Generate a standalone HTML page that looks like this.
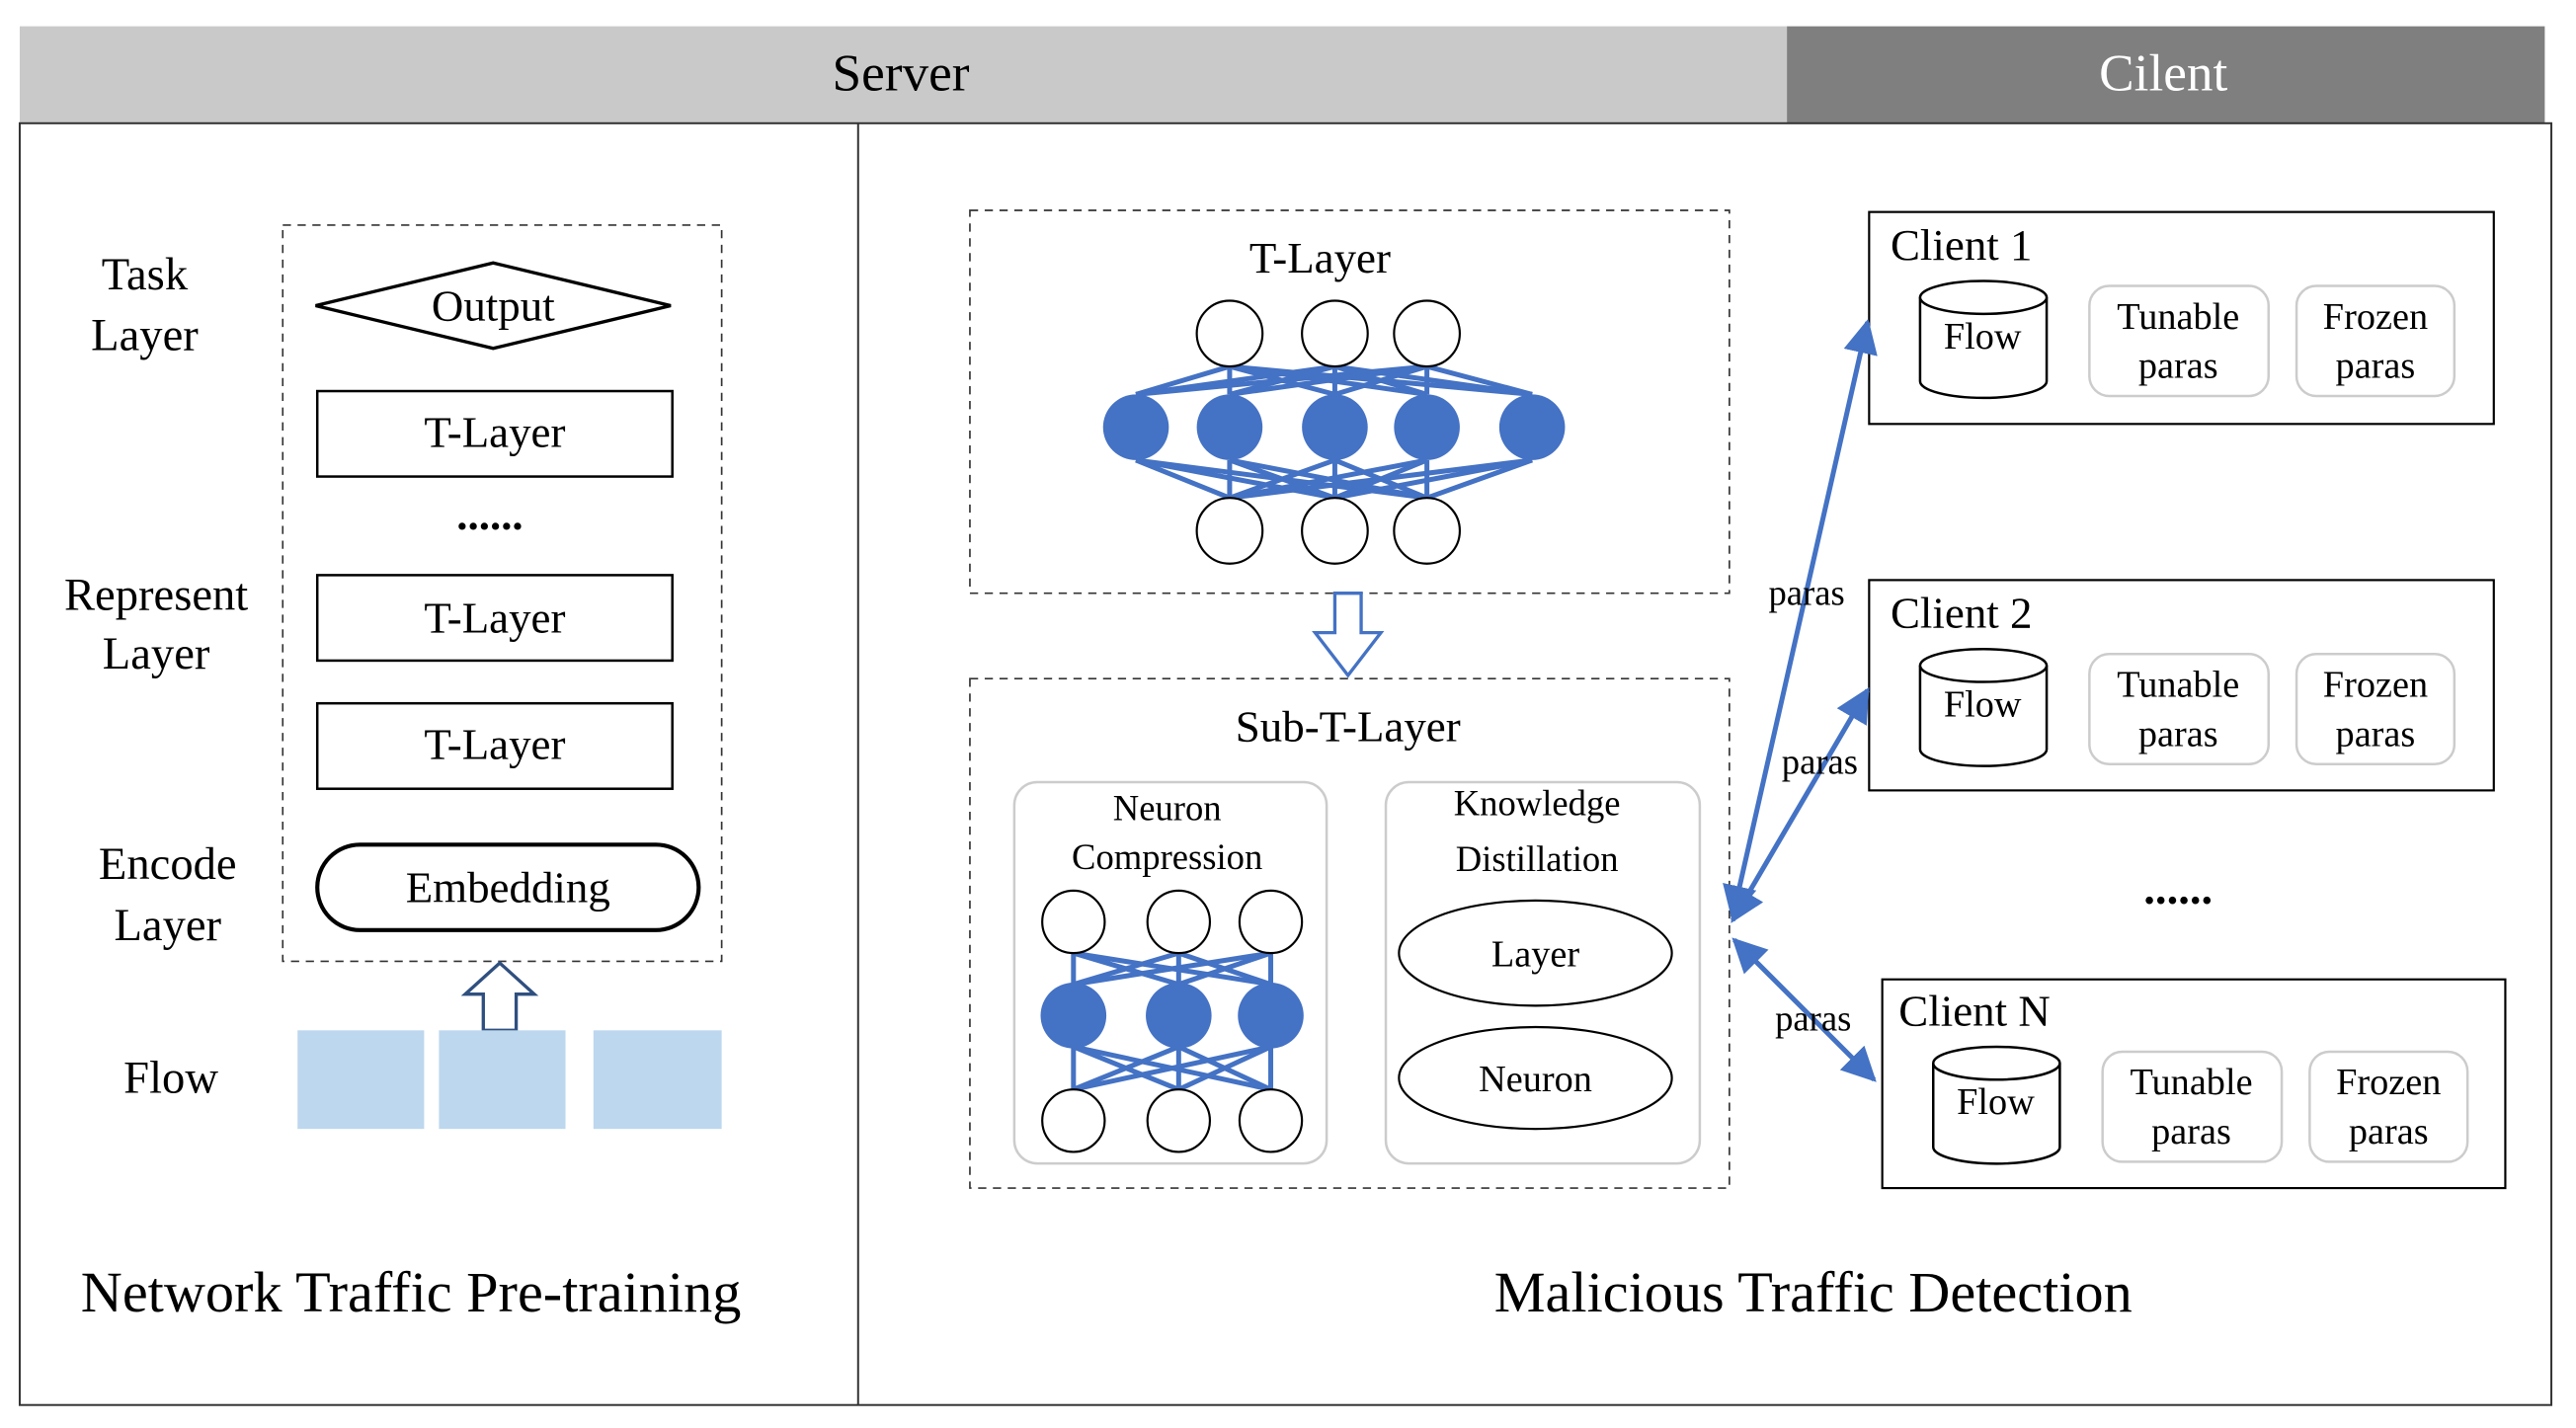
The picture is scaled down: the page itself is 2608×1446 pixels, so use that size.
<!DOCTYPE html>
<html><head><style>html,body{margin:0;padding:0;background:#fff}svg{display:block}text{font-family:"Liberation Serif",serif;fill:#000}</style></head>
<body>
<svg width="2608" height="1446" viewBox="0 0 1567 869" preserveAspectRatio="none" xmlns="http://www.w3.org/2000/svg">
<rect x="12" y="16" width="1075" height="59" fill="#c9c9c9"/>
<rect x="1087" y="16" width="461" height="59" fill="#7f7f7f"/>
<text x="548" y="55" font-size="32" text-anchor="middle">Server</text>
<text x="1316" y="55" font-size="32" text-anchor="middle" style="fill:#fff">Cilent</text>
<rect x="12" y="75" width="1540" height="780" fill="none" stroke="#333" stroke-width="1.2"/>
<line x1="522" y1="75" x2="522" y2="855" stroke="#333" stroke-width="1.2"/>

<g font-size="28" text-anchor="middle">
<text x="88" y="176">Task</text><text x="88" y="213">Layer</text>
<text x="95" y="371">Represent</text><text x="95" y="407">Layer</text>
<text x="102" y="535">Encode</text><text x="102" y="572">Layer</text>
<text x="104" y="665">Flow</text>
</g>
<rect x="172" y="137" width="267" height="448" fill="none" stroke="#333" stroke-dasharray="5,4"/>
<polygon points="192,186 300,160 408,186 300,212" fill="#fff" stroke="#000" stroke-width="2"/>
<text x="300" y="195" font-size="27" text-anchor="middle">Output</text>
<g fill="#fff" stroke="#000" stroke-width="1.5">
<rect x="193" y="238" width="216" height="52"/><rect x="193" y="350" width="216" height="52"/><rect x="193" y="428" width="216" height="52"/>
<rect x="193" y="514" width="232" height="52" rx="26" stroke-width="2.5"/>
</g>
<g font-size="27" text-anchor="middle">
<text x="301" y="272">T-Layer</text><text x="301" y="385">T-Layer</text><text x="301" y="462">T-Layer</text>
<text x="309" y="549">Embedding</text>
<text x="298" y="322" font-weight="bold">......</text>
</g>
<polygon points="294,627 314,627 314,605 325,605 304,586 283,605 294,605" fill="#fff" stroke="#2f4f7f" stroke-width="2"/>
<g fill="#bdd7ee"><rect x="181" y="627" width="77" height="60"/><rect x="267" y="627" width="77" height="60"/><rect x="361" y="627" width="78" height="60"/></g>
<text x="250" y="798" font-size="35" text-anchor="middle">Network Traffic Pre-training</text>

<rect x="590" y="128" width="462" height="233" fill="none" stroke="#333" stroke-dasharray="5,4"/>
<text x="803" y="166" font-size="27" text-anchor="middle">T-Layer</text>
<g stroke="#4472c4" stroke-width="3">
<line x1="691" y1="240" x2="748" y2="223"/><line x1="691" y1="240" x2="812" y2="223"/><line x1="691" y1="240" x2="868" y2="223"/>
<line x1="748" y1="240" x2="748" y2="223"/><line x1="748" y1="240" x2="812" y2="223"/><line x1="748" y1="240" x2="868" y2="223"/>
<line x1="812" y1="240" x2="748" y2="223"/><line x1="812" y1="240" x2="812" y2="223"/><line x1="812" y1="240" x2="868" y2="223"/>
<line x1="868" y1="240" x2="748" y2="223"/><line x1="868" y1="240" x2="812" y2="223"/><line x1="868" y1="240" x2="868" y2="223"/>
<line x1="932" y1="240" x2="748" y2="223"/><line x1="932" y1="240" x2="812" y2="223"/><line x1="932" y1="240" x2="868" y2="223"/>
<line x1="691" y1="280" x2="748" y2="303"/><line x1="691" y1="280" x2="812" y2="303"/><line x1="691" y1="280" x2="868" y2="303"/>
<line x1="748" y1="280" x2="748" y2="303"/><line x1="748" y1="280" x2="812" y2="303"/><line x1="748" y1="280" x2="868" y2="303"/>
<line x1="812" y1="280" x2="748" y2="303"/><line x1="812" y1="280" x2="812" y2="303"/><line x1="812" y1="280" x2="868" y2="303"/>
<line x1="868" y1="280" x2="748" y2="303"/><line x1="868" y1="280" x2="812" y2="303"/><line x1="868" y1="280" x2="868" y2="303"/>
<line x1="932" y1="280" x2="748" y2="303"/><line x1="932" y1="280" x2="812" y2="303"/><line x1="932" y1="280" x2="868" y2="303"/>
</g>
<g fill="#fff" stroke="#000" stroke-width="1.3">
<circle cx="748" cy="203" r="20"/><circle cx="812" cy="203" r="20"/><circle cx="868" cy="203" r="20"/>
<circle cx="748" cy="323" r="20"/><circle cx="812" cy="323" r="20"/><circle cx="868" cy="323" r="20"/>
</g>
<g fill="#4472c4"><circle cx="691" cy="260" r="20"/><circle cx="748" cy="260" r="20"/><circle cx="812" cy="260" r="20"/><circle cx="868" cy="260" r="20"/><circle cx="932" cy="260" r="20"/></g>
<polygon points="812,361 828,361 828,385 840,385 820,411 800,385 812,385" fill="#fff" stroke="#4472c4" stroke-width="2"/>

<rect x="590" y="413" width="462" height="310" fill="none" stroke="#333" stroke-dasharray="5,4"/>
<text x="820" y="451" font-size="27" text-anchor="middle">Sub-T-Layer</text>
<rect x="617" y="476" width="190" height="232" rx="14" fill="none" stroke="#ccc" stroke-width="1.5"/>
<rect x="843" y="476" width="191" height="232" rx="14" fill="none" stroke="#ccc" stroke-width="1.5"/>
<g font-size="22" text-anchor="middle">
<text x="710" y="499">Neuron</text><text x="710" y="529">Compression</text>
<text x="935" y="496">Knowledge</text><text x="935" y="530">Distillation</text>
</g>
<g stroke="#4472c4" stroke-width="3">
<line x1="653" y1="580" x2="653" y2="663"/><line x1="717" y1="580" x2="717" y2="663"/><line x1="773" y1="580" x2="773" y2="663"/>
<line x1="653" y1="580" x2="773" y2="599"/><line x1="773" y1="580" x2="653" y2="599"/><line x1="653" y1="580" x2="717" y2="599"/><line x1="717" y1="580" x2="653" y2="599"/><line x1="717" y1="580" x2="773" y2="599"/><line x1="773" y1="580" x2="717" y2="599"/>
<line x1="653" y1="637" x2="773" y2="663"/><line x1="773" y1="637" x2="653" y2="663"/><line x1="653" y1="637" x2="717" y2="663"/><line x1="717" y1="637" x2="653" y2="663"/><line x1="717" y1="637" x2="773" y2="663"/><line x1="773" y1="637" x2="717" y2="663"/>
</g>
<g fill="#fff" stroke="#000" stroke-width="1.3">
<circle cx="653" cy="561" r="19"/><circle cx="717" cy="561" r="19"/><circle cx="773" cy="561" r="19"/>
<circle cx="653" cy="682" r="19"/><circle cx="717" cy="682" r="19"/><circle cx="773" cy="682" r="19"/>
<ellipse cx="934" cy="580" rx="83" ry="32"/><ellipse cx="934" cy="656" rx="83" ry="31"/>
</g>
<g fill="#4472c4"><circle cx="653" cy="618" r="20"/><circle cx="717" cy="618" r="20"/><circle cx="773" cy="618" r="20"/></g>
<text x="934" y="588" font-size="23" text-anchor="middle">Layer</text>
<text x="934" y="664" font-size="23" text-anchor="middle">Neuron</text>

<defs>
<g id="cl">
<path d="M1168,181 L1168,232 A38,10 0 0 0 1245,232 L1245,181" fill="#fff" stroke="#000" stroke-width="1.5"/>
<ellipse cx="1206.5" cy="181" rx="38.5" ry="10" fill="#fff" stroke="#000" stroke-width="1.5"/>
<text x="1206" y="212" font-size="23" text-anchor="middle">Flow</text>
<rect x="1271" y="174" width="109" height="67" rx="12" fill="none" stroke="#ccc" stroke-width="1.5"/>
<rect x="1397" y="174" width="96" height="67" rx="12" fill="none" stroke="#ccc" stroke-width="1.5"/>
<text x="1325" y="200" font-size="23" text-anchor="middle">Tunable</text><text x="1325" y="230" font-size="23" text-anchor="middle">paras</text>
<text x="1445" y="200" font-size="23" text-anchor="middle">Frozen</text><text x="1445" y="230" font-size="23" text-anchor="middle">paras</text>
</g>
</defs>
<rect x="1137" y="129" width="380" height="129" fill="none" stroke="#000" stroke-width="1.3"/>
<text x="1150" y="158" font-size="27">Client 1</text>
<use href="#cl"/>
<rect x="1137" y="353" width="380" height="128" fill="none" stroke="#000" stroke-width="1.3"/>
<text x="1150" y="382" font-size="27">Client 2</text>
<use href="#cl" transform="translate(0,224)"/>
<rect x="1145" y="596" width="379" height="127" fill="none" stroke="#000" stroke-width="1.3"/>
<text x="1155" y="624" font-size="27">Client N</text>
<use href="#cl" transform="translate(8,466)"/>
<text x="1325" y="550" font-size="28" font-weight="bold" text-anchor="middle">......</text>

<defs><marker id="ah" viewBox="0 0 10 10" refX="9" refY="5" markerWidth="7" markerHeight="7" orient="auto-start-reverse"><path d="M0,0 L10,5 L0,10 z" fill="#4472c4"/></marker></defs>
<g stroke="#4472c4" stroke-width="3" marker-start="url(#ah)" marker-end="url(#ah)">
<line x1="1054" y1="558" x2="1136" y2="196"/>
<line x1="1054" y1="560" x2="1136" y2="420"/>
<line x1="1055" y1="572" x2="1140" y2="657"/>
</g>
<g font-size="22" text-anchor="middle">
<text x="1099" y="368">paras</text><text x="1107" y="471">paras</text><text x="1103" y="627">paras</text>
</g>
<text x="1103" y="798" font-size="35" text-anchor="middle">Malicious Traffic Detection</text>
</svg>
</body></html>
